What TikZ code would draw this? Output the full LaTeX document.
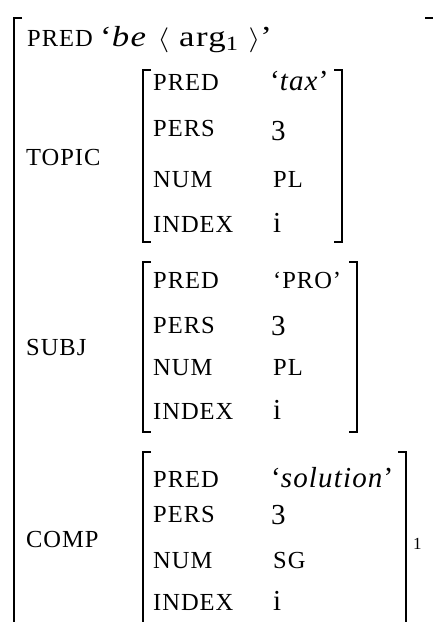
\documentclass[tikz,border=0pt]{standalone}
\usepackage{fontspec}
\usepackage{graphicx}
\setmainfont{Liberation Serif}
\usetikzlibrary{positioning}

\begin{document}
\begin{tikzpicture}[x=1pt,y=-1pt,
    attr/.style={anchor=base west, inner sep=0pt, font=\fontsize{24.5}{25}\selectfont\addfontfeatures{LetterSpace=4}},
    val/.style={anchor=base west, inner sep=0pt, font=\fontsize{29}{29}\selectfont\addfontfeatures{LetterSpace=4}},
    brk/.style={line width=1.6pt}]
    \useasboundingbox (0,0) rectangle (432,622);

    % outer f-structure
    \draw[brk] (22,18) -- (14,18) -- (14,640);
    \draw[brk] (425,18) -- (445,18);
    \node[attr] (pred) at (27,46) {PRED};
    \node[val] (predv) at (100,46) {\scalebox{1.2}[1]{‘\textit{be} $\langle$ arg\textsubscript{1} $\rangle$’}};

    % TOPIC
    \node[attr] (topic) at (26,165) {TOPIC};
    \draw[brk] (151,70) -- (143,70) -- (143,242) -- (151,242);
    \draw[brk] (334,70) -- (342,70) -- (342,242) -- (334,242);
    \node[attr] (tpred) at (153,90) {PRED};
    \node[val] (tpredv) at (270,90) {‘\textit{tax}’};
    \node[attr] (tpers) at (153,136) {PERS};
    \node[val] (tpersv) at (271,140) {3};
    \node[attr] (tnum) at (153,187) {NUM};
    \node[attr] (tnumv) at (273,187) {PL};
    \node[attr] (tindex) at (153,232) {INDEX};
    \node[val] (tindexv) at (273,232) {i};

    % SUBJ
    \node[attr] (subj) at (26,355) {SUBJ};
    \draw[brk] (151,262) -- (143,262) -- (143,432) -- (151,432);
    \draw[brk] (349,262) -- (357,262) -- (357,432) -- (349,432);
    \node[attr] (spred) at (153,288) {PRED};
    \node[attr] (spredv) at (273,288) {‘PRO’};
    \node[attr] (spers) at (153,333) {PERS};
    \node[val] (spersv) at (271,335) {3};
    \node[attr] (snum) at (153,375) {NUM};
    \node[attr] (snumv) at (273,375) {PL};
    \node[attr] (sindex) at (153,419) {INDEX};
    \node[val] (sindexv) at (273,419) {i};

    % COMP
    \node[attr] (comp) at (26,547) {COMP};
    \draw[brk] (151,452) -- (143,452) -- (143,640);
    \draw[brk] (398,452) -- (406,452) -- (406,640);
    \node[attr] (cpred) at (153,487) {PRED};
    \node[val] (cpredv) at (271,487) {‘\textit{solution}’};
    \node[attr] (cpers) at (153,522) {PERS};
    \node[val] (cpersv) at (271,524) {3};
    \node[attr] (cnum) at (153,568) {NUM};
    \node[attr] (cnumv) at (273,568) {SG};
    \node[attr] (cindex) at (153,610) {INDEX};
    \node[val] (cindexv) at (273,610) {i};
    \node[anchor=base west, inner sep=0pt, font=\fontsize{17}{17}\selectfont] (cidx) at (413,549) {1};
\end{tikzpicture}
\end{document}
